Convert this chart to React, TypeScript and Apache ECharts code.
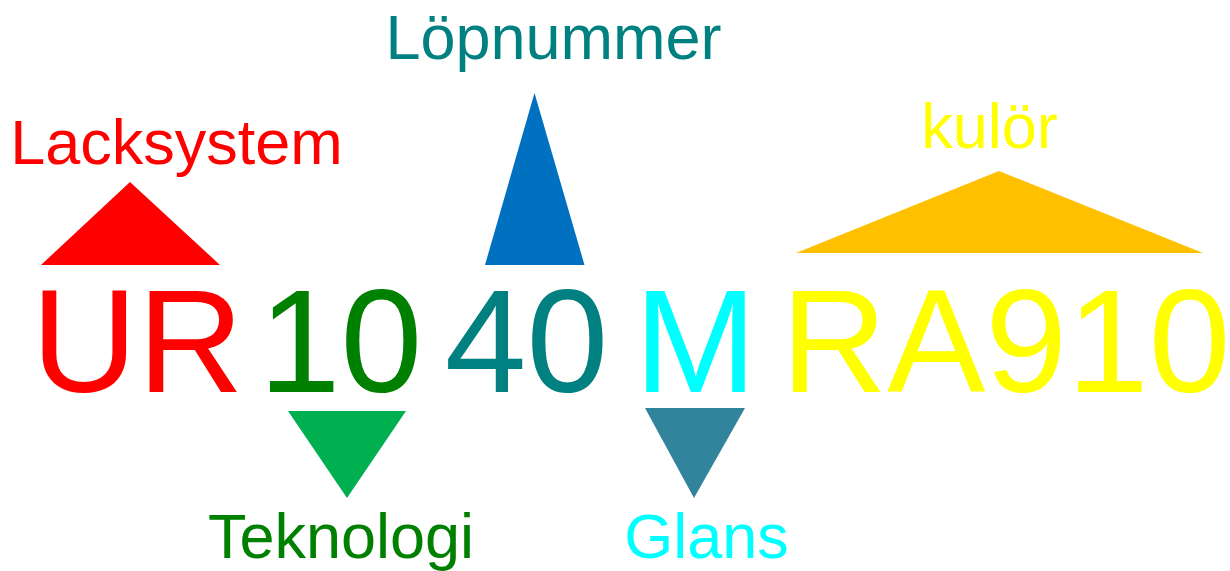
import React, { useEffect, useRef } from "react";
import * as echarts from "echarts";

// Product code parts
const codes = ["UR", "10", "40", "M", "RA910"];
const codeColors = ["#FF0000", "#008000", "#008080", "#00FFFF", "#FFFF00"];
const codeCenterX = [137.5, 340.5, 526.5, 695.5, 1005.8];
const codeBaseline = [391.5, 391.5, 391.5, 391.5, 391.5];

// Labels for each part
const labels = ["Lacksystem", "Teknologi", "Löpnummer", "Glans", "kulör"];
const labelColors = ["#FF0000", "#008000", "#008080", "#00FFFF", "#FFFF00"];
const labelCenterX = [176.5, 341, 553.5, 706.5, 989.5];
const labelBaseline = [164, 558, 59, 558, 148];

// Pointer triangles: apex, base-left, base-right
const triApexX = [130, 347, 534.5, 694, 999];
const triApexY = [182, 498, 93, 498, 171];
const triBaseLeftX = [41, 288, 485, 645, 796];
const triBaseRightX = [220, 406, 584.5, 745, 1203];
const triBaseY = [265, 411, 265, 408, 253];
const triColors = ["#FF0000", "#00B050", "#0070C0", "#31849B", "#FFC000"];

const FONT = "'Liberation Sans', Arial, sans-serif";
const CODE_SIZE = 147;
const LABEL_SIZE = 63;
const CENTRAL = 0.3465; // central baseline offset (em) above alphabetic baseline

export default function App() {
  const ref = useRef<HTMLDivElement>(null);
  useEffect(() => {
    if (!ref.current) return;
    const chart = echarts.init(ref.current, null, { renderer: "svg" });

    const triData = triApexX.map((_, i) => [
      triApexX[i], triApexY[i], triBaseLeftX[i], triBaseY[i], triBaseRightX[i], triBaseY[i], i,
    ]);
    const codeData = codes.map((_, i) => [codeCenterX[i], codeBaseline[i], i]);
    const labelData = labels.map((_, i) => [labelCenterX[i], labelBaseline[i], i]);

    chart.setOption({
      animation: false,
      backgroundColor: "#ffffff",
      grid: { left: 0, right: 0, top: 0, bottom: 0 },
      xAxis: { type: "value", min: 0, max: 1230, show: false },
      yAxis: { type: "value", min: 0, max: 571, inverse: true, show: false },
      series: [
        {
          type: "custom",
          data: triData,
          renderItem: (params: any, api: any) => {
            const a = api.coord([api.value(0), api.value(1)]);
            const b = api.coord([api.value(2), api.value(3)]);
            const c = api.coord([api.value(4), api.value(5)]);
            return {
              type: "polygon",
              shape: { points: [a, b, c] },
              style: { fill: triColors[api.value(6)] },
            };
          },
        },
        {
          type: "custom",
          data: codeData,
          renderItem: (params: any, api: any) => {
            const i = api.value(2);
            const p = api.coord([api.value(0), api.value(1)]);
            return {
              type: "text",
              x: p[0],
              y: p[1] - CENTRAL * CODE_SIZE,
              style: {
                text: codes[i],
                fill: codeColors[i],
                fontFamily: FONT,
                fontSize: CODE_SIZE,
                align: "center",
                verticalAlign: "middle",
              },
            };
          },
        },
        {
          type: "custom",
          data: labelData,
          renderItem: (params: any, api: any) => {
            const i = api.value(2);
            const p = api.coord([api.value(0), api.value(1)]);
            return {
              type: "text",
              x: p[0],
              y: p[1] - CENTRAL * LABEL_SIZE,
              style: {
                text: labels[i],
                fill: labelColors[i],
                fontFamily: FONT,
                fontSize: LABEL_SIZE,
                align: "center",
                verticalAlign: "middle",
              },
            };
          },
        },
      ],
    });
    return () => chart.dispose();
  }, []);

  return (
    <div
      ref={ref}
      style={{ position: "absolute", left: 0, top: 0, width: 1230, height: 571 }}
    />
  );
}
